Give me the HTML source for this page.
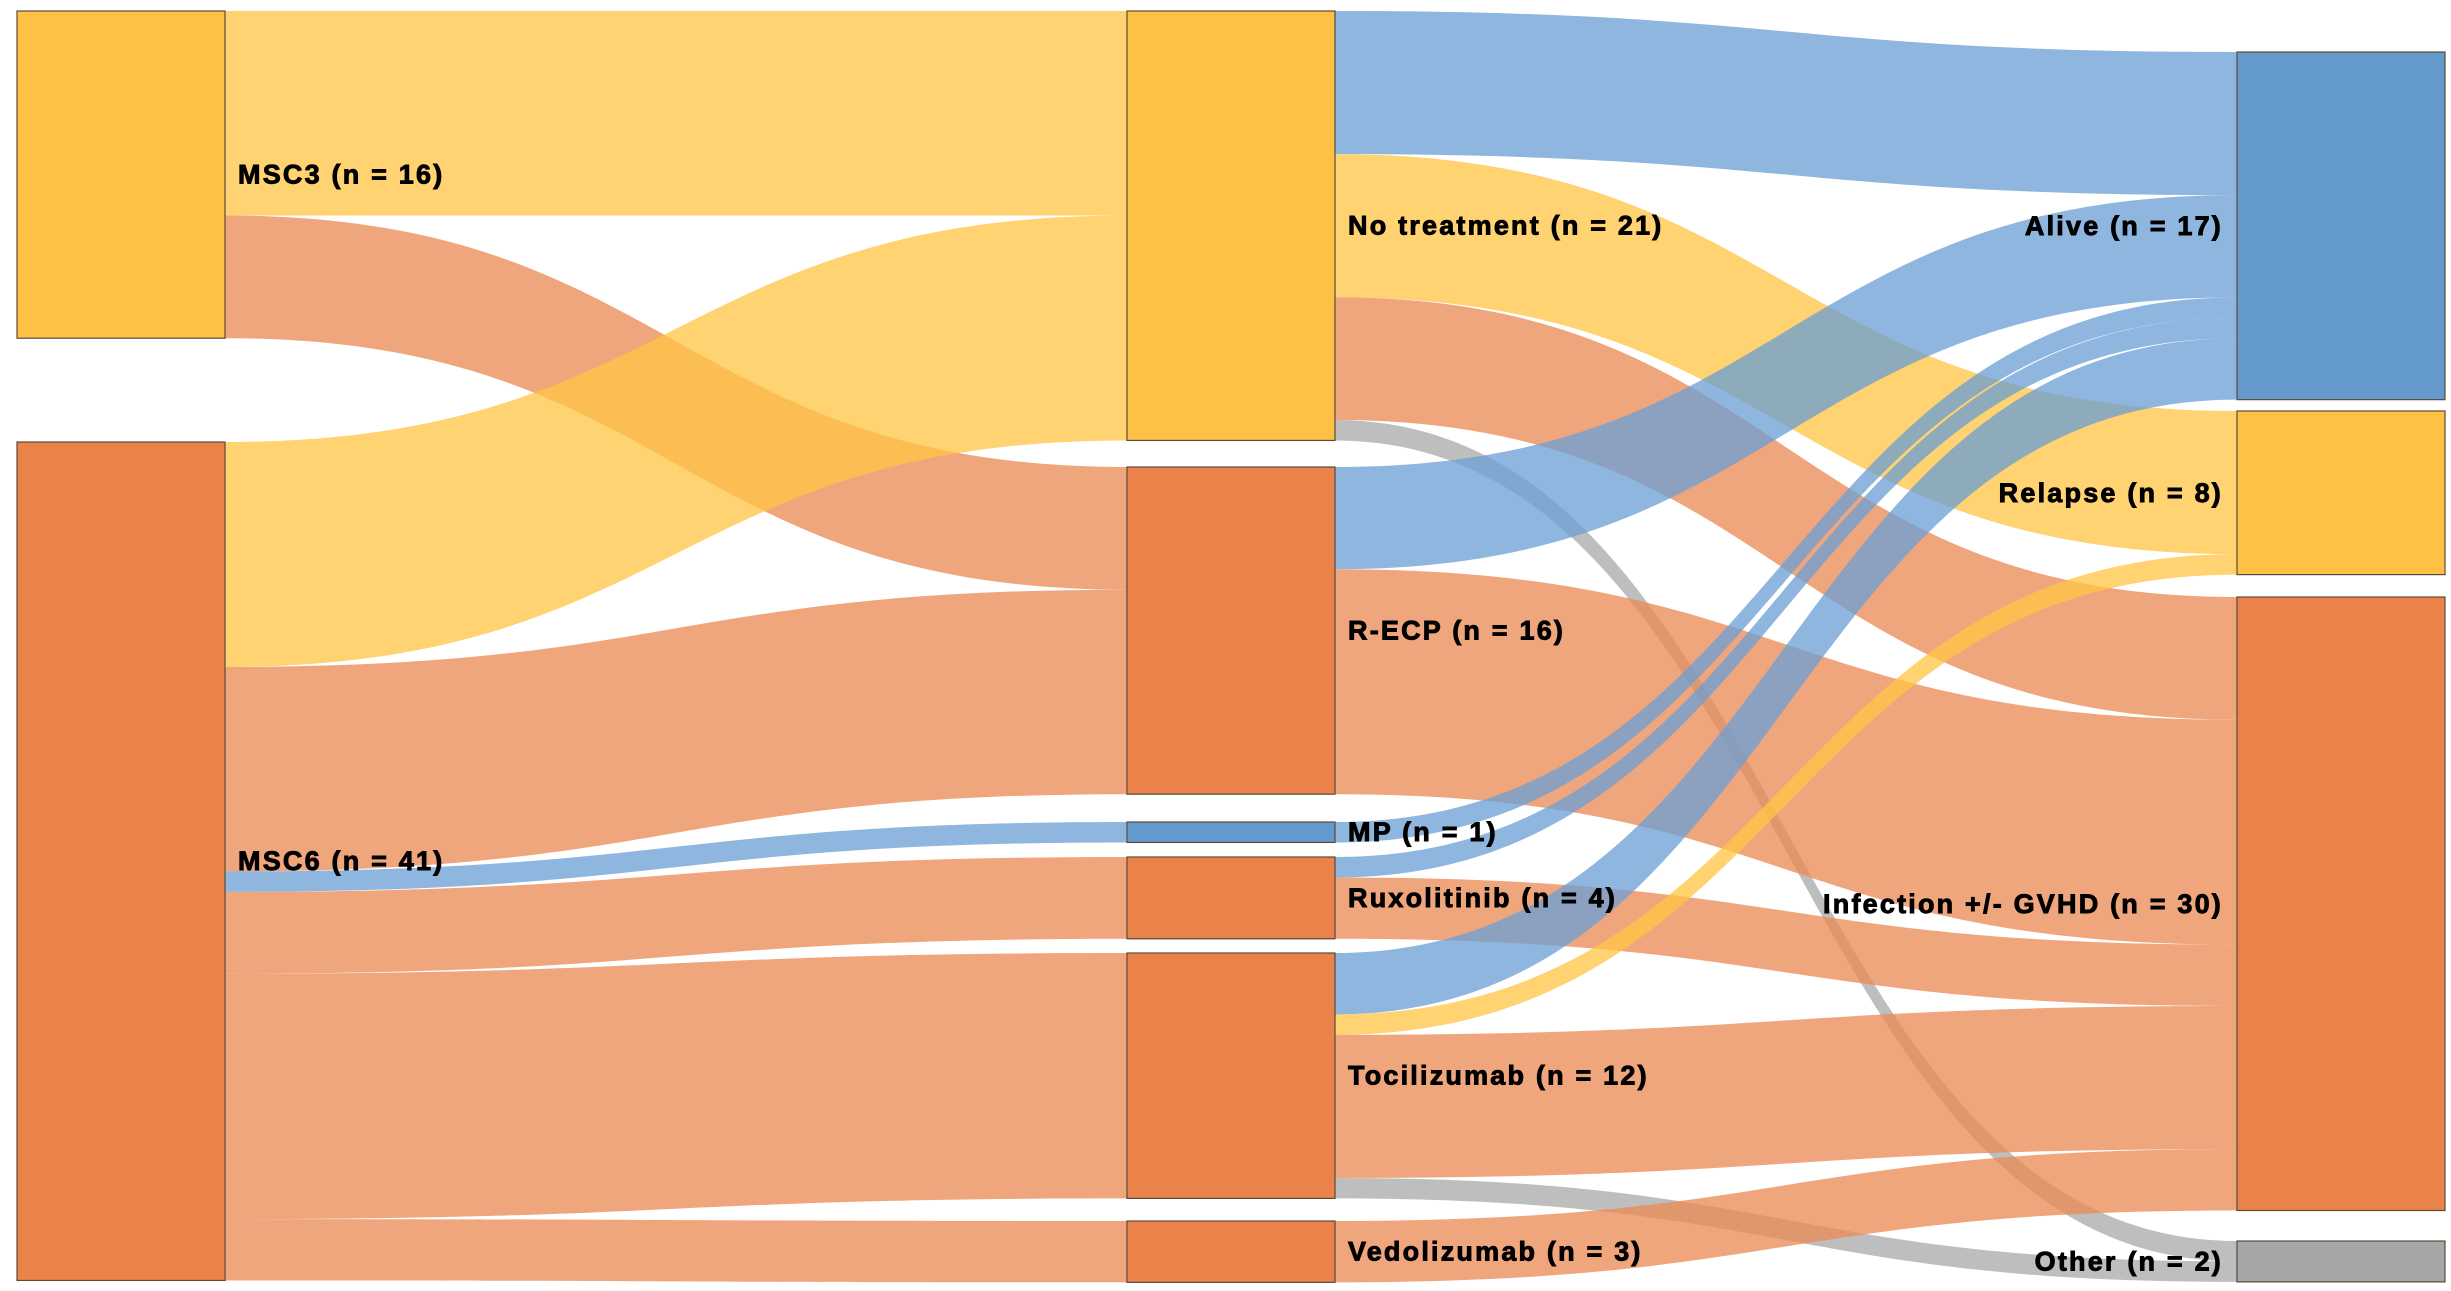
<!DOCTYPE html>
<html><head><meta charset="utf-8">
<style>
html,body{margin:0;padding:0;background:#fff;}
svg{display:block;}
text{font-family:"Liberation Sans",Arial,sans-serif;font-weight:bold;font-size:27px;fill:#000;stroke:#000;stroke-width:0.9px;letter-spacing:2.2px;}
</style></head>
<body>
<svg id="chart" width="2451" height="1291" viewBox="0 0 2451 1291" xmlns="http://www.w3.org/2000/svg">
<g id="links"></g>
<g id="nodes"></g>
<g id="labels"></g>
</svg>
<script>
// ---- data ----
const nodeNames = ["MSC3","MSC6","No treatment","R-ECP","MP","Ruxolitinib","Tocilizumab","Vedolizumab","Alive","Relapse","Infection +/- GVHD","Other"];
const nodeValues = [16,41,21,16,1,4,12,3,17,8,30,2];
const nodeColumn = [0,0,1,1,1,1,1,1,2,2,2,2];
const nodeCategory = ["yellow","orange","yellow","orange","blue","orange","orange","orange","blue","yellow","orange","grey"];
const linkSource = [0,0,1,1,1,1,1,1, 2,2,2,2, 3,3, 4, 5,5, 6,6,6,6, 7];
const linkTarget = [2,3,2,3,4,5,6,7, 8,9,10,11, 8,10, 8, 8,10, 8,9,10,11, 10];
const linkValues = [10,6,11,10,1,4,12,3, 7,7,6,1, 5,11, 1, 1,3, 3,1,7,1, 3];

// ---- layout (style, not data) ----
const unit = 20.45;
const colX = [17,1127,2237];
const nodeW = 208;
const nodeTop = [11,442,11,467,822,857,953,1221,52,411,597,1241];
const nodeFill = {yellow:"#FFC145",orange:"#EA8249",blue:"#6399CC",grey:"#A6A6A6"};
const linkFill = {yellow:"#FFC446",orange:"#EB8A54",blue:"#6A9FD3",grey:"#A9A9A9"};
const NS="http://www.w3.org/2000/svg";
const gL=document.getElementById("links"), gN=document.getElementById("nodes"), gT=document.getElementById("labels");
const slug=s=>s.toLowerCase().replace(/[^a-z0-9]+/g,"-").replace(/(^-|-$)/g,"");

const outOff=nodeValues.map(()=>0), inOff=nodeValues.map(()=>0);
const order=linkValues.map((v,i)=>i);
const srcY={}, tgtY={};
order.slice().sort((a,b)=>linkSource[a]-linkSource[b]||linkTarget[a]-linkTarget[b]).forEach(i=>{
  const s=linkSource[i]; srcY[i]=nodeTop[s]+outOff[s]; outOff[s]+=linkValues[i]*unit;});
order.slice().sort((a,b)=>linkTarget[a]-linkTarget[b]||linkSource[a]-linkSource[b]).forEach(i=>{
  const t=linkTarget[i]; tgtY[i]=nodeTop[t]+inOff[t]; inOff[t]+=linkValues[i]*unit;});

order.forEach(i=>{
  const s=linkSource[i], t=linkTarget[i], h=linkValues[i]*unit;
  const x0=colX[nodeColumn[s]]+nodeW, x1=colX[nodeColumn[t]], xm=(x0+x1)/2;
  const y0=srcY[i], y1=tgtY[i];
  const d=`M${x0},${y0} C${xm},${y0} ${xm},${y1} ${x1},${y1} L${x1},${y1+h} C${xm},${y1+h} ${xm},${y0+h} ${x0},${y0+h} Z`;
  const p=document.createElementNS(NS,"path");
  p.setAttribute("d",d);
  p.setAttribute("fill",linkFill[nodeCategory[t]]);
  p.setAttribute("fill-opacity","0.76");
  
  
  gL.appendChild(p);
});

nodeNames.forEach((n,i)=>{
  const x=colX[nodeColumn[i]], y=nodeTop[i], h=nodeValues[i]*unit;
  const r=document.createElementNS(NS,"rect");
  r.setAttribute("x",x);r.setAttribute("y",y);r.setAttribute("width",nodeW);r.setAttribute("height",h);
  r.setAttribute("fill",nodeFill[nodeCategory[i]]);r.setAttribute("stroke","#5a4a3a");r.setAttribute("stroke-width","1.2");
  
  
  gN.appendChild(r);
  const t=document.createElementNS(NS,"text");
  const right=nodeColumn[i]===2;
  t.setAttribute("x", right? x-14 : x+nodeW+13);
  t.setAttribute("y", y+h/2+9);
  t.setAttribute("text-anchor", right?"end":"start");
  t.textContent=n+" (n = "+nodeValues[i]+")";
  
  
  gT.appendChild(t);
});
</script>
</body></html>
